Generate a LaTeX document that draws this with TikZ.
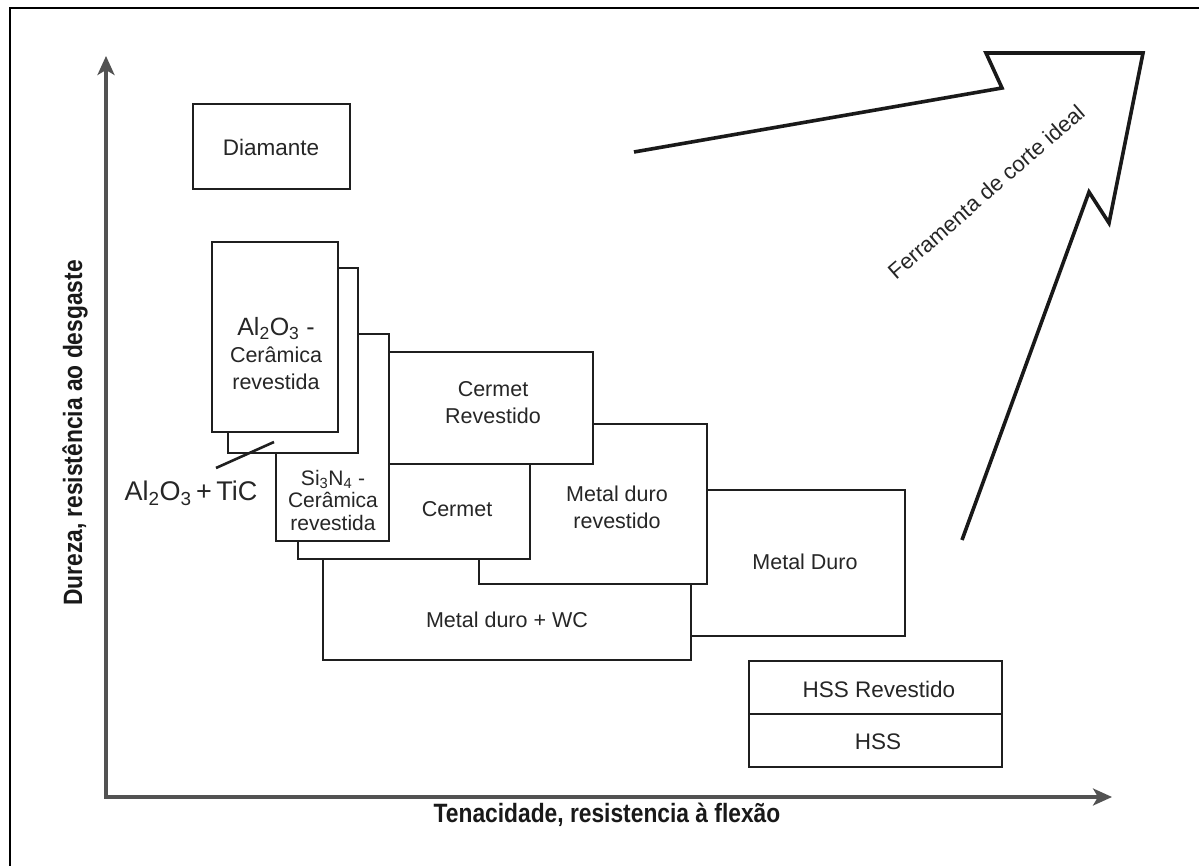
\documentclass[tikz,border=0pt]{standalone}
\usepackage{fontspec}
\setmainfont{Liberation Sans}
\newfontfamily\axisfont[FakeStretch=0.86]{Liberation Sans}
\usetikzlibrary{arrows.meta}
\begin{document}
\begin{tikzpicture}[x=1pt,y=-1pt,
  panel/.style={draw=black!88, line width=2.6pt, fill=white},
  lbl/.style={font=\fontsize{21.5}{27}\selectfont, align=center, inner sep=0pt, text=black!85},
  axis/.style={draw=black!68, line width=3.2pt},
  axlbl/.style={font=\axisfont\bfseries\fontsize{26.5}{30}\selectfont, inner sep=0pt, text=black!90}]
\useasboundingbox (0,0) rectangle (1199,866);
\fill[white] (0,0) rectangle (1199,866);

% outer frame (runs past the page on the right and bottom)
\draw[line width=2.6pt] (10,900) -- (10,8) -- (1230,8);

% axes
\coordinate (ytop) at (106,56);
\coordinate (origin) at (106,797);
\coordinate (xend) at (1112,797);
\draw[axis, {Stealth[length=19pt,width=17pt,inset=5pt]}-{Stealth[length=19pt,width=17pt,inset=5pt]}]
  (ytop) -- (origin) -- (xend);
\node[axlbl] (xlabel) at (607,815) {Tenacidade, resistencia à flexão};
\node[axlbl, rotate=90] (ylabel) at (75,433) {Dureza, resistência ao desgaste};

% material regions, back to front
\draw[panel] (600,490) rectangle (905,636);   % metal duro
\draw[panel] (323,500) rectangle (691,660);   % metal duro + WC
\draw[panel] (479,424) rectangle (707,584);   % metal duro revestido
\draw[panel] (298,420) rectangle (530,559);   % cermet
\draw[panel] (389,352) rectangle (593,464);   % cermet revestido
\draw[panel] (276,334) rectangle (389,541);   % Si3N4
\draw[panel] (228,268) rectangle (358,453);   % Al2O3 + TiC
\draw[panel] (212,242) rectangle (338,432);   % Al2O3
\draw[panel] (193,104) rectangle (350,189);   % diamante
\draw[panel] (749,661) rectangle (1002,767);  % HSS
\draw[panel] (749,714) -- (1002,714);

% labels
\node[lbl, font=\fontsize{22.5}{27}\selectfont] (diamante) at (271,147) {Diamante};
\node[lbl] (alo) at (276,354) {{\fontsize{25}{27}\selectfont Al\textsubscript{2}O\textsubscript{3} -}\\Cerâmica\\revestida};
\node[lbl, font=\fontsize{21}{22.5}\selectfont] (sin) at (333,500) {Si\textsubscript{3}N\textsubscript{4} -\\Cerâmica\\revestida};
\node[lbl] (cermetrev) at (493,403) {Cermet\\Revestido};
\node[lbl] (cermet) at (457,509) {Cermet};
\node[lbl] (mdrev) at (617,507) {Metal duro\\revestido};
\node[lbl] (mdwc) at (507,620) {Metal duro + WC};
\node[lbl] (md) at (805,562) {Metal Duro};
\node[lbl, font=\fontsize{22.5}{26}\selectfont] (hssrev) at (879,689) {HSS Revestido};
\node[lbl, font=\fontsize{22.5}{26}\selectfont] (hss) at (878,742) {HSS};

% Al2O3 + TiC callout
\node[lbl, font=\fontsize{27}{30}\selectfont] (tic) at (191,493) {Al\textsubscript{2}O\textsubscript{3}\,+\,TiC};
\coordinate (ticA) at (216,468);
\coordinate (ticB) at (274,442);
\draw[line width=2.6pt, draw=black!88] (ticA) -- (ticB);

% ideal tool arrow
\draw[line width=3.6pt, line join=miter, draw=black!90]
  (634,152) -- (1002,88) -- (986,53) -- (1143,53) -- (1109,223) -- (1089,192) -- (962,540);
\node[lbl, font=\fontsize{22}{24}\selectfont, rotate=41] (ideal) at (986,192) {Ferramenta de corte ideal};
\end{tikzpicture}
\end{document}
